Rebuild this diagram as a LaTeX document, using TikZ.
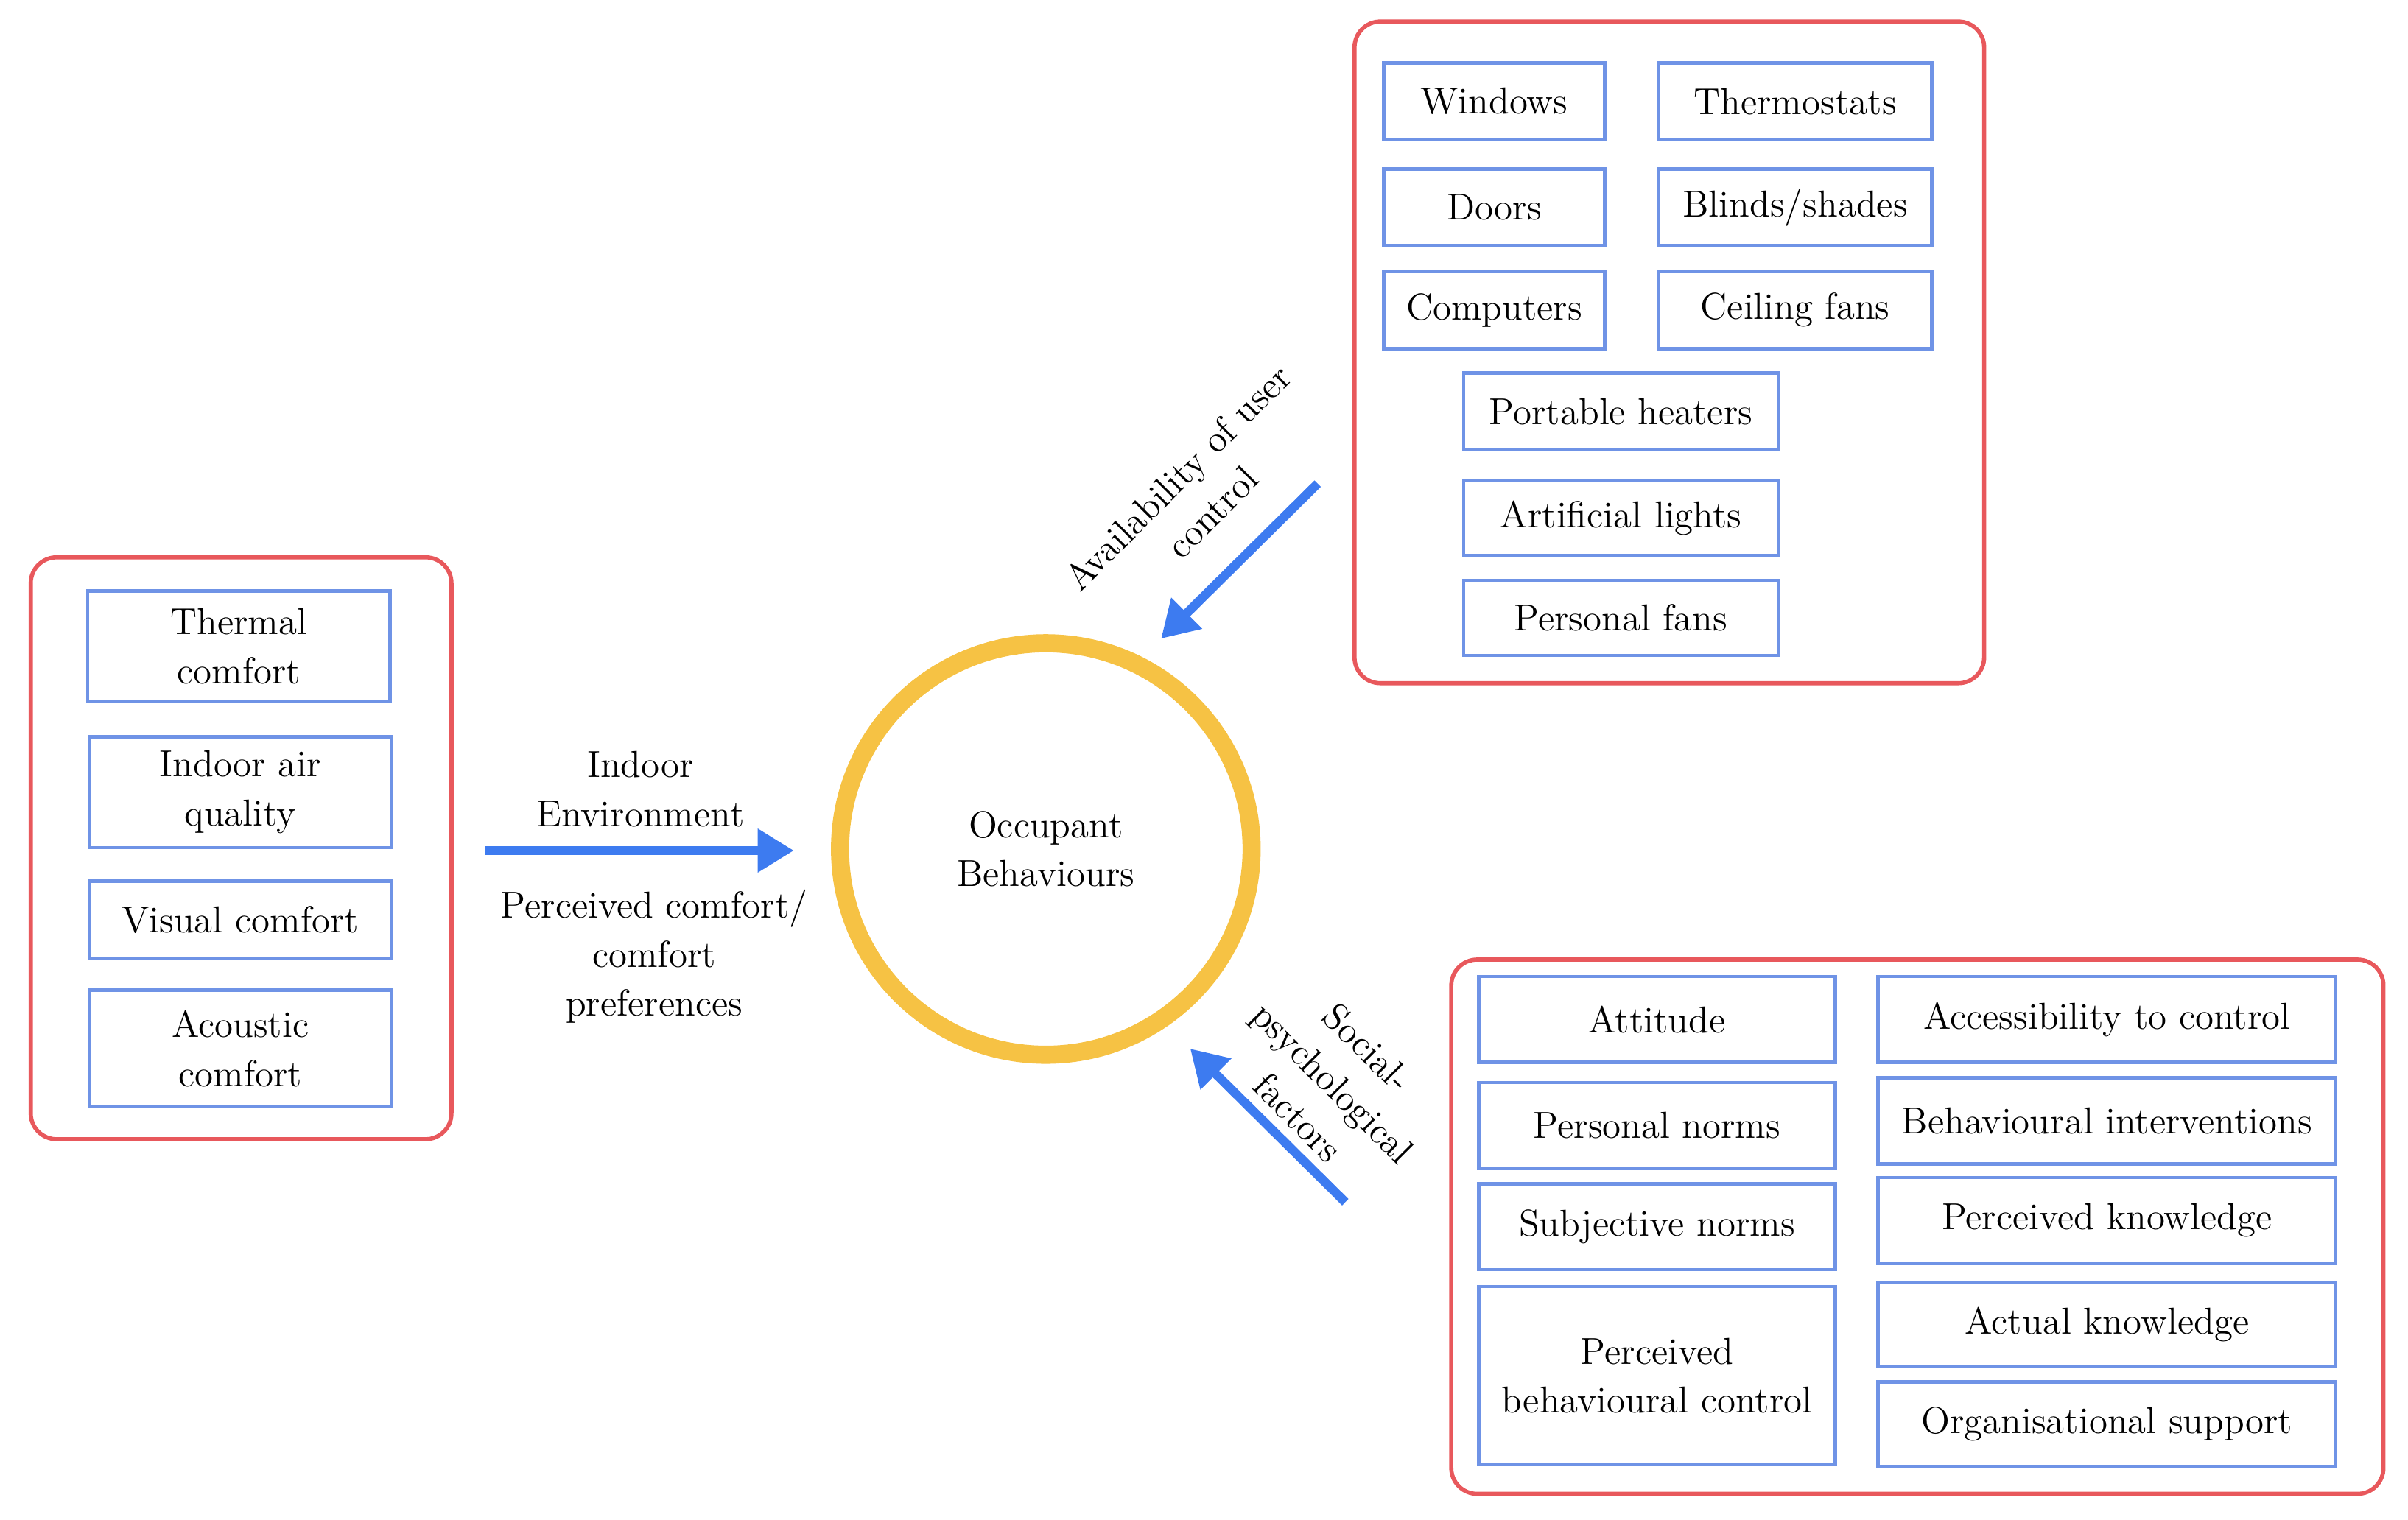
\documentclass[tikz,border=0pt]{standalone}
\usetikzlibrary{arrows.meta}
\definecolor{bx}{HTML}{6F93E6}
\definecolor{rd}{HTML}{E8585C}
\definecolor{ar}{HTML}{3D7BF0}
\definecolor{gd}{HTML}{F6C244}
\begin{document}
\begin{tikzpicture}[x=0.02085cm,y=-0.02085cm,
  cont/.style={draw=rd,line width=1.6pt,rounded corners=10pt},
  bx/.style={draw=bx,line width=1.3pt},
  t/.style={font=\fontsize{14.5}{19}\selectfont,align=center,inner sep=1pt},
  arr/.style={draw=ar,line width=3.5pt,-{Triangle[length=14pt,width=16pt]}}]
\useasboundingbox (0,0) rectangle (1568,990);
\newcommand\bxx[6]{\draw[bx] (#2,#3) rectangle (#4,#5); \node[t] (#1) at ({(#2+#4)/2},{(#3+#5)/2}) {#6};}
\draw[cont] (20,363) rectangle (294,742);
\bxx{a1}{57}{385}{254}{457}{Thermal\\comfort}
\bxx{a2}{58}{480}{255}{552}{Indoor air\\quality}
\bxx{a3}{58}{574}{255}{624}{Visual comfort}
\bxx{a4}{58}{645}{255}{721}{Acoustic\\comfort}
\draw[cont] (882,14) rectangle (1292,445);
\bxx{b1}{901}{41}{1045}{91}{Windows}
\bxx{b2}{1080}{41}{1258}{91}{Thermostats}
\bxx{b3}{901}{110}{1045}{160}{Doors}
\bxx{b4}{1080}{110}{1258}{160}{Blinds/shades}
\bxx{b5}{901}{177}{1045}{227}{Computers}
\bxx{b6}{1080}{177}{1258}{227}{Ceiling fans}
\bxx{b7}{953}{243}{1158}{293}{Portable heaters}
\bxx{b8}{953}{313}{1158}{362}{Artificial lights}
\bxx{b9}{953}{378}{1158}{427}{Personal fans}
\draw[cont] (945,625) rectangle (1552,973);
\bxx{c1}{963}{636}{1195}{692}{Attitude}
\bxx{c2}{1223}{636}{1521}{692}{Accessibility to control}
\bxx{c3}{963}{705}{1195}{761}{Personal norms}
\bxx{c4}{1223}{702}{1521}{758}{Behavioural interventions}
\bxx{c5}{963}{771}{1195}{827}{Subjective norms}
\bxx{c6}{1223}{767}{1521}{823}{Perceived knowledge}
\bxx{c7}{963}{838}{1195}{954}{Perceived\\behavioural control}
\bxx{c8}{1223}{835}{1521}{890}{Actual knowledge}
\bxx{c9}{1223}{900}{1521}{955}{Organisational support}
\draw[gd,line width=7pt] (681,553) circle[radius=134];
\node[t] (ob) at (681,553) {Occupant\\Behaviours};
\coordinate (l1) at (316,554); \coordinate (l2) at (517,554);
\coordinate (t1) at (858,315); \coordinate (t2) at (756,416);
\coordinate (s1) at (876,783); \coordinate (s2) at (775,683);
\draw[arr] (l1) -- (l2);
\draw[arr] (t1) -- (t2);
\draw[arr] (s1) -- (s2);
\node[t] (la) at (417,514) {Indoor\\Environment};
\node[t] (lb) at (426,623) {Perceived comfort/\\comfort\\preferences};
\node[t,rotate=45] (lc) at (778,322) {Availability of user\\control};
\node[t,rotate=-45] (ld) at (868,705) {Social-\\psychological\\factors};
\end{tikzpicture}
\end{document}
